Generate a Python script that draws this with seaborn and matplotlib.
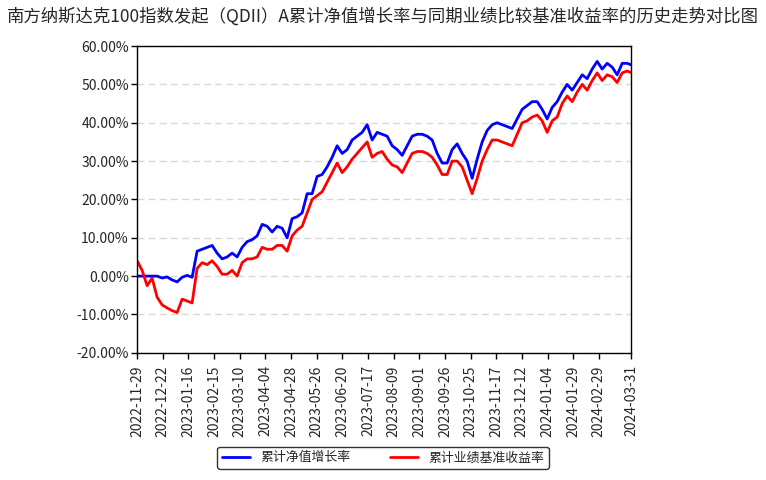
import numpy as np
import pandas as pd
import matplotlib
matplotlib.use("Agg")
import matplotlib.pyplot as plt
import seaborn as sns
from matplotlib.lines import Line2D

title = "南方纳斯达克100指数发起（QDII）A累计净值增长率与同期业绩比较基准收益率的历史走势对比图"
series_names = ["累计净值增长率", "累计业绩基准收益率"]

date_labels = ["2022-11-29", "2022-12-22", "2023-01-16", "2023-02-15", "2023-03-10",
               "2023-04-04", "2023-04-28", "2023-05-26", "2023-06-20", "2023-07-17",
               "2023-08-09", "2023-09-01", "2023-09-26", "2023-10-25", "2023-11-17",
               "2023-12-12", "2024-01-04", "2024-01-29", "2024-02-29", "2024-03-31"]

y_ticks = [-20, -10, 0, 10, 20, 30, 40, 50, 60]

# 累计净值增长率 (%), sampled evenly along the time axis
fund = [0.0, 0.0, 0.0, 0.0, 0.0, -0.5, -0.2, -1.0, -1.5, -0.3,
        0.2, -0.3, 6.5, 7.0, 7.5, 8.0, 6.0, 4.5, 5.0, 6.0,
        5.0, 7.5, 9.0, 9.5, 10.5, 13.5, 13.0, 11.5, 13.0, 12.5,
        10.0, 15.0, 15.5, 16.5, 21.5, 21.5, 26.0, 26.5, 28.5, 31.0,
        34.0, 32.0, 33.0, 35.5, 36.5, 37.5, 39.5, 35.5, 37.5, 37.0,
        36.5, 34.0, 33.0, 31.5, 34.0, 36.5, 37.0, 37.0, 36.5, 35.5,
        32.0, 29.5, 29.5, 33.0, 34.5, 32.0, 30.0, 25.5, 30.5, 35.0,
        38.0, 39.5, 40.0, 39.5, 39.0, 38.5, 41.0, 43.5, 44.5, 45.5,
        45.5, 43.5, 41.0, 44.0, 45.5, 48.0, 50.0, 48.5, 50.5, 52.5,
        51.5, 54.0, 56.0, 54.0, 55.5, 54.5, 52.5, 55.5, 55.5, 55.0]

# 累计业绩基准收益率 (%)
bench = [4.0, 1.5, -2.5, -0.5, -5.5, -7.5, -8.3, -9.0, -9.5, -6.0,
         -6.5, -7.0, 2.0, 3.5, 3.0, 4.0, 2.5, 0.5, 0.5, 1.5,
         0.0, 3.5, 4.5, 4.5, 5.0, 7.5, 7.0, 7.0, 8.0, 8.0,
         6.5, 10.5, 12.0, 13.0, 16.5, 20.0, 21.0, 22.0, 24.5, 27.0,
         29.5, 27.0, 28.5, 30.5, 32.0, 33.5, 35.0, 31.0, 32.0, 32.5,
         30.5, 29.0, 28.5, 27.0, 29.5, 32.0, 32.5, 32.5, 32.0, 31.0,
         29.0, 26.5, 26.5, 30.0, 30.0, 28.5, 25.0, 21.5, 25.5, 30.0,
         33.0, 35.5, 35.5, 35.0, 34.5, 34.0, 37.0, 40.0, 40.5, 41.5,
         42.0, 40.5, 37.5, 40.5, 41.5, 45.0, 47.0, 45.5, 48.0, 50.0,
         48.5, 51.0, 53.0, 51.0, 52.5, 52.0, 50.5, 53.0, 53.5, 53.0]

sns.set_theme(style="white")
plt.rcParams['font.family'] = ['Noto Sans CJK SC', 'DejaVu Sans']
plt.rcParams['axes.unicode_minus'] = False

n = len(fund)
x = np.arange(n)
df = pd.DataFrame({
    "x": np.concatenate([x, x]),
    "value": np.concatenate([fund, bench]),
    "series": [series_names[0]] * n + [series_names[1]] * n,
})

fig = plt.figure(figsize=(7.66, 4.8), dpi=100)
ax = fig.add_axes([0.179, 0.265, 0.645, 0.639])

sns.lineplot(data=df, x="x", y="value", hue="series",
             palette={series_names[0]: "#0000FF", series_names[1]: "#FF0000"},
             linewidth=2, ax=ax, legend=False)

x_end = n - 1.2
ax.set_xlim(0, x_end)
ax.set_ylim(-20, 60)

step = x_end * 25.65 / 494.0
tick_pos = [i * step for i in range(len(date_labels) - 1)] + [x_end]
ax.set_xticks(tick_pos)
ax.set_xticklabels(date_labels, rotation=90, fontsize=10)
ax.set_yticks(y_ticks)
ax.set_yticklabels([f"{v:.2f}%" for v in y_ticks], fontsize=10)
ax.set_xlabel("")
ax.set_ylabel("")

for v in y_ticks:
    ax.axhline(v, color="#d8d8d8", linestyle=(0, (5, 3)), linewidth=1, zorder=0)

for s in ax.spines.values():
    s.set_color("black")
    s.set_linewidth(1)
ax.tick_params(axis="x", direction="out", length=4, width=1, color="black",
               bottom=True, pad=5)
ax.tick_params(axis="y", direction="out", length=4, width=1, color="black",
               left=True, pad=2)

fig.suptitle(title, fontsize=12.5, x=0.5, y=0.985)

handles = [Line2D([], [], color="#0000FF", linewidth=2),
           Line2D([], [], color="#FF0000", linewidth=2)]
leg = fig.legend(handles, series_names, loc="center", bbox_to_anchor=(0.5, 0.046),
                 ncol=2, frameon=True, fontsize=9.3, handlelength=2.2, columnspacing=3.0,
                 handletextpad=0.8, borderpad=0.35, fancybox=True)
leg.get_frame().set_edgecolor("black")
leg.get_frame().set_linewidth(1)

fig.savefig("out.png", dpi=100)
